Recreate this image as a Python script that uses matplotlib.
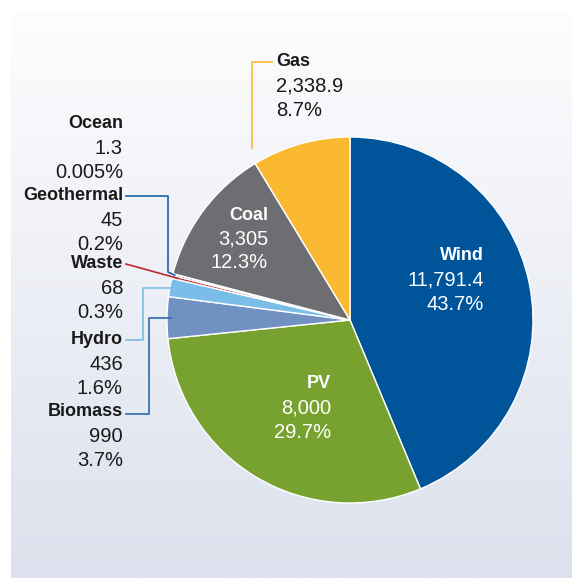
import numpy as np
import matplotlib.pyplot as plt
import matplotlib.colors as mcolors

plt.rcParams['font.family'] = ['Liberation Sans', 'DejaVu Sans']

# energy sources, clockwise from 12 o'clock
sources = ['Wind', 'PV', 'Biomass', 'Hydro', 'Waste', 'Geothermal', 'Ocean', 'Coal', 'Gas']
values = [11791.4, 8000, 990, 436, 68, 45, 1.3, 3305, 2338.9]
value_labels = ['11,791.4', '8,000', '990', '436', '68', '45', '1.3', '3,305', '2,338.9']
pct_labels = ['43.7%', '29.7%', '3.7%', '1.6%', '0.3%', '0.2%', '0.005%', '12.3%', '8.7%']
colors = ['#00559a', '#78a22f', '#7191c2', '#7abde9', '#c1272d', '#2a6aad', '#9ec5e6',
          '#6d6e71', '#fbb831']
line_colors = {'Gas': '#fbb831', 'Geothermal': '#1d62a8', 'Waste': '#c1272d',
               'Hydro': '#7abde9', 'Biomass': '#2e6aa8'}

W, H = 572, 578
fig = plt.figure(figsize=(W / 100, H / 100), dpi=100)
ax = fig.add_axes([0, 0, 1, 1])


def Y(y):
    # image pixel row -> data y (y up)
    return H - y


# background panel with vertical gradient
grad = np.linspace(0, 1, 256).reshape(-1, 1)
cmap = mcolors.LinearSegmentedColormap.from_list('bg', ['#fdfdfe', '#dce1ed'])
ax.imshow(grad, cmap=cmap, extent=[11, W, 0, Y(13)], aspect='auto', zorder=0,
          origin='upper')

cx, cy, r = 350, Y(320), 183
wedges, _ = ax.pie(values, colors=colors, startangle=90, counterclock=False,
                   center=(cx, cy), radius=r,
                   wedgeprops=dict(edgecolor='white', linewidth=1))
ax.set_xlim(0, W)
ax.set_ylim(0, H)
ax.set_aspect('equal')
ax.axis('off')

# wedge boundary angles (degrees), clockwise from the top
vals = np.array(values)
bounds = 90 - 360 * np.concatenate([[0], np.cumsum(vals)]) / vals.sum()

dark = '#1a1a1a'
fs_b, fs_r = 13, 14.5
step = 24


def label(x, y, i, color, ha):
    ax.text(x, Y(y), sources[i], ha=ha, va='center', fontsize=fs_b,
            fontweight='bold', color=color)
    ax.text(x, Y(y + step), value_labels[i], ha=ha, va='center', fontsize=fs_r,
            color=color)
    ax.text(x, Y(y + 2 * step), pct_labels[i], ha=ha, va='center', fontsize=fs_r,
            color=color)


# labels inside the pie
label(484, 256, 0, 'white', 'right')
label(331, 384, 1, 'white', 'right')
label(268, 215, 7, 'white', 'right')

# outside labels
label(123, 124, 6, dark, 'right')
label(123, 196, 5, dark, 'right')
label(123, 264, 4, dark, 'right')
label(123, 340, 3, dark, 'right')
label(123, 412, 2, dark, 'right')
label(276, 62, 8, dark, 'left')


def edge_point(i, frac=0.5, rr=r):
    a = np.deg2rad(bounds[i] + (bounds[i + 1] - bounds[i]) * frac)
    return cx + rr * np.cos(a), cy + rr * np.sin(a)


# leader lines
ex, ey = edge_point(8, 0.05, r * 1.08)
ax.plot([272, ex, ex], [Y(62), Y(62), ey], color=line_colors['Gas'], lw=1.2)

ex, ey = edge_point(5, 0.5, r * 0.99)
ax.plot([126, 168, 168, ex], [Y(196), Y(196), ey + 3, ey],
        color=line_colors['Geothermal'], lw=1.2)

ex, ey = edge_point(4, 0.5, r * 0.97)
ax.plot([126, ex], [Y(264), ey], color=line_colors['Waste'], lw=1.2)

ex, ey = edge_point(3, 0.5, r * 0.99)
ax.plot([126, 143, 143, ex], [Y(340), Y(340), ey, ey],
        color=line_colors['Hydro'], lw=1.2)

ex, ey = edge_point(2, 0.5, r * 0.98)
ax.plot([126, 149, 149, ex], [Y(414), Y(414), ey, ey],
        color=line_colors['Biomass'], lw=1.2)

fig.savefig('out.png', dpi=100, facecolor='white')
